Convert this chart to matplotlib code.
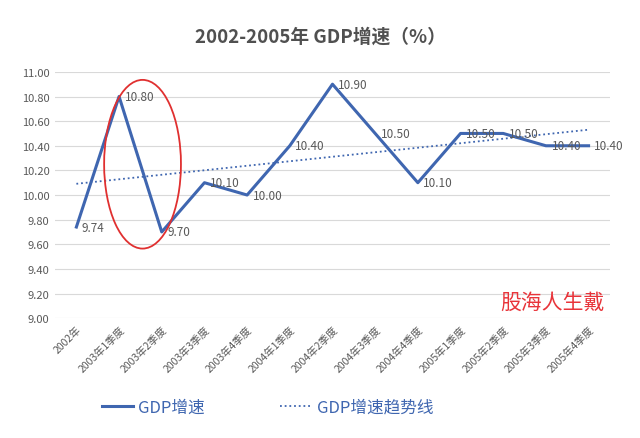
import numpy as np
import matplotlib
matplotlib.use("Agg")
import matplotlib.pyplot as plt
from matplotlib.patches import Ellipse
from matplotlib.lines import Line2D

plt.rcParams['font.family'] = ['Noto Sans CJK SC', 'DejaVu Sans']

categories = ['2002年', '2003年1季度', '2003年2季度', '2003年3季度', '2003年4季度',
              '2004年1季度', '2004年2季度', '2004年3季度', '2004年4季度',
              '2005年1季度', '2005年2季度', '2005年3季度', '2005年4季度']
gdp_growth = [9.74, 10.80, 9.70, 10.10, 10.00, 10.40, 10.90, 10.50, 10.10,
              10.50, 10.50, 10.40, 10.40]

blue = '#3F66B0'
gray = '#595959'

x = np.arange(len(categories))
y = np.array(gdp_growth)

# linear trend line, like Excel's
slope, intercept = np.polyfit(x, y, 1)
trend = slope * x + intercept

fig = plt.figure(figsize=(6.4, 4.39), dpi=100)
ax = fig.add_axes([0.086, 0.273, 0.867, 0.561])

for v in np.arange(9.0, 11.01, 0.2):
    ax.axhline(v, color='#D9D9D9', lw=0.8, zorder=0)

ax.plot(x, y, color=blue, lw=2.2, zorder=3)
ax.plot(x, trend, color=blue, lw=1.3, ls=(0, (1, 1.6)), zorder=2)

for xi, yi in zip(x, y):
    ax.annotate(f'{yi:.2f}', (xi, yi), xytext=(4, 0), textcoords='offset points',
                ha='left', va='center', fontsize=8.5, color=gray, zorder=4)

ax.add_patch(Ellipse((1.55, 10.25), 1.8, 1.37, fill=False, edgecolor='#E03030',
                     lw=1.3, zorder=5))

ax.set_xlim(-0.5, len(categories) - 0.5)
ax.set_ylim(9.0, 11.0)
ax.set_yticks(np.arange(9.0, 11.01, 0.2))
ax.set_yticklabels([f'{v:.2f}' for v in np.arange(9.0, 11.01, 0.2)], fontsize=8, color=gray)
ax.set_xticks(x)
ax.set_xticklabels(categories, rotation=45, ha='right', rotation_mode='anchor',
                   fontsize=7.5, color=gray)
ax.tick_params(length=0, pad=4)
for s in ax.spines.values():
    s.set_visible(False)

ax.text(0.99, 0.065, '股海人生戴', transform=ax.transAxes, ha='right', va='center',
        fontsize=15, color='#E8343A')

fig.text(0.5, 0.915, '2002-2005年 GDP增速（%）', ha='center', va='center',
         fontsize=13.5, fontweight='bold', color='#505050')

handles = [Line2D([], [], color=blue, lw=2.2),
           Line2D([], [], color=blue, lw=1.3, ls=(0, (1, 1.6)))]
fig.legend(handles, ['GDP增速', 'GDP增速趋势线'], loc='center', bbox_to_anchor=(0.418, 0.07),
           ncol=2, frameon=False, fontsize=12, labelcolor=blue, handlelength=1.9,
           handletextpad=0.3, columnspacing=4.5)

fig.savefig('out.png', dpi=100)
